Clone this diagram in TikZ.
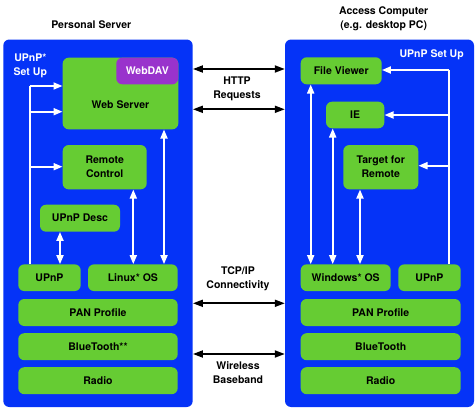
\documentclass[tikz,border=0pt]{standalone}
\usepackage{fontspec}
\setmainfont{TeX Gyre Heros}
\usetikzlibrary{arrows.meta}
\definecolor{panelblue}{HTML}{0533F7}
\definecolor{boxgreen}{HTML}{66CC33}
\definecolor{davpurple}{HTML}{9933CC}
\begin{document}
\begin{tikzpicture}[x=1pt,y=-1pt,
  every node/.style={font=\fontsize{10.5}{14}\selectfont\bfseries, inner sep=0pt, align=center},
  panel/.style={fill=panelblue, rounded corners=6pt},
  gbox/.style={fill=boxgreen, rounded corners=6pt},
  dav/.style={fill=davpurple, rounded corners=6pt, text=white},
  wtxt/.style={text=white},
  wl/.style={draw=white, line width=1.8pt},
  wa/.style={wl, -{Triangle[length=9pt,width=7pt]}},
  wda/.style={wl, {Triangle[length=9pt,width=7pt]}-{Triangle[length=9pt,width=7pt]}},
  bda/.style={draw=black, line width=1.8pt, {Triangle[length=10pt,width=7pt]}-{Triangle[length=10pt,width=7pt]}}]
\useasboundingbox (0,0) rectangle (475,415);
% panels
\node[panel, minimum width=189.4pt, minimum height=367.5pt] (lp) at (98,223.25) {};
\node[panel, minimum width=189pt, minimum height=367.5pt] (rp) at (379.5,223.25) {};
% titles
\node (tl) at (91.3,25) {Personal Server};
\node (tr1) at (383.7,11.7) {Access Computer};
\node (tr2) at (383.7,25.7) {(e.g. desktop PC)};
\node[wtxt] (sul) at (30.3,65.5) {UPnP*\\Set Up};
\node[wtxt] (sur) at (431.7,55) {UPnP Set Up};
% left boxes
\node[gbox, minimum width=115.6pt, minimum height=71.6pt] (ws) at (120.5,93.5) {};
\node (wst) at (120.5,105) {Web Server};
\node[dav, minimum width=62pt, minimum height=26.6pt] (dv) at (147.3,71) {WebDAV};
\node[gbox, minimum width=84pt, minimum height=44.3pt] (rc) at (104.7,167.2) {Remote\\Control};
\node[gbox, minimum width=80pt, minimum height=27pt] (desc) at (80,218.2) {UPnP Desc};
\node[gbox, minimum width=62.4pt, minimum height=26.7pt] (upl) at (49.5,277.7) {UPnP};
\node[gbox, minimum width=89.7pt, minimum height=26.7pt] (lin) at (132.85,277.7) {Linux* OS};
\node[gbox, minimum width=159.4pt, minimum height=27pt] (panl) at (98,312.5) {PAN Profile};
\node[gbox, minimum width=159.4pt, minimum height=27pt] (btl) at (98,346.7) {BlueTooth**};
\node[gbox, minimum width=159.4pt, minimum height=27pt] (rdl) at (98,380.7) {Radio};
% right boxes
\node[gbox, minimum width=81pt, minimum height=27pt] (fv) at (341.2,70.8) {File Viewer};
\node[gbox, minimum width=58.3pt, minimum height=26.6pt] (ie) at (355.2,115) {IE};
\node[gbox, minimum width=75pt, minimum height=44.3pt] (tg) at (380.8,167.2) {Target for\\Remote};
\node[gbox, minimum width=90pt, minimum height=26.7pt] (win) at (345.7,277.7) {Windows* OS};
\node[gbox, minimum width=62.4pt, minimum height=26.7pt] (upr) at (429.5,277.7) {UPnP};
\node[gbox, minimum width=160pt, minimum height=27pt] (panr) at (380.7,312.5) {PAN Profile};
\node[gbox, minimum width=160pt, minimum height=27pt] (btr) at (380.7,346.7) {BlueTooth};
\node[gbox, minimum width=160pt, minimum height=27pt] (rdr) at (380.7,380.7) {Radio};
% middle labels
\node (http) at (237,88.7) {HTTP\\Requests};
\node (tcp) at (238,279.2) {TCP/IP\\Connectivity};
\node (wire) at (238,373) {Wireless\\Baseband};
% middle arrows
\draw[bda] (lp.east |- 0,69) -- (rp.west |- 0,69);
\draw[bda] (lp.east |- 0,109.3) -- (rp.west |- 0,109.3);
\draw[bda] (lp.east |- 0,303.3) -- (rp.west |- 0,303.3);
\draw[bda] (lp.east |- 0,354) -- (rp.west |- 0,354);
% left white connectors
\coordinate (vl) at (30,86);
\draw[wl] (upl.north -| vl) -- (vl);
\draw[wa] (vl) -- (ws.west |- vl);
\draw[wa] (30,111.7) -- (ws.west |- 0,111.7);
\draw[wa] (30,166.7) -- (rc.west |- 0,166.7);
\draw[wda] (desc.south -| 60,0) -- (upl.north -| 60,0);
\draw[wda] (rc.south -| 133.3,0) -- (lin.north -| 133.3,0);
\draw[wda] (ws.south -| 164,0) -- (lin.north -| 164,0);
% right white connectors
\coordinate (vr) at (449.3,70);
\draw[wl] (upr.north -| vr) -- (vr);
\draw[wa] (vr) -- (fv.east |- vr);
\draw[wa] (449.3,115) -- (ie.east |- 0,115);
\draw[wa] (449.3,165.7) -- (tg.east |- 0,165.7);
\draw[wda] (fv.south -| 310.7,0) -- (win.north -| 310.7,0);
\draw[wda] (ie.south -| 332.7,0) -- (win.north -| 332.7,0);
\draw[wda] (tg.south -| 360,0) -- (win.north -| 360,0);
\end{tikzpicture}
\end{document}
